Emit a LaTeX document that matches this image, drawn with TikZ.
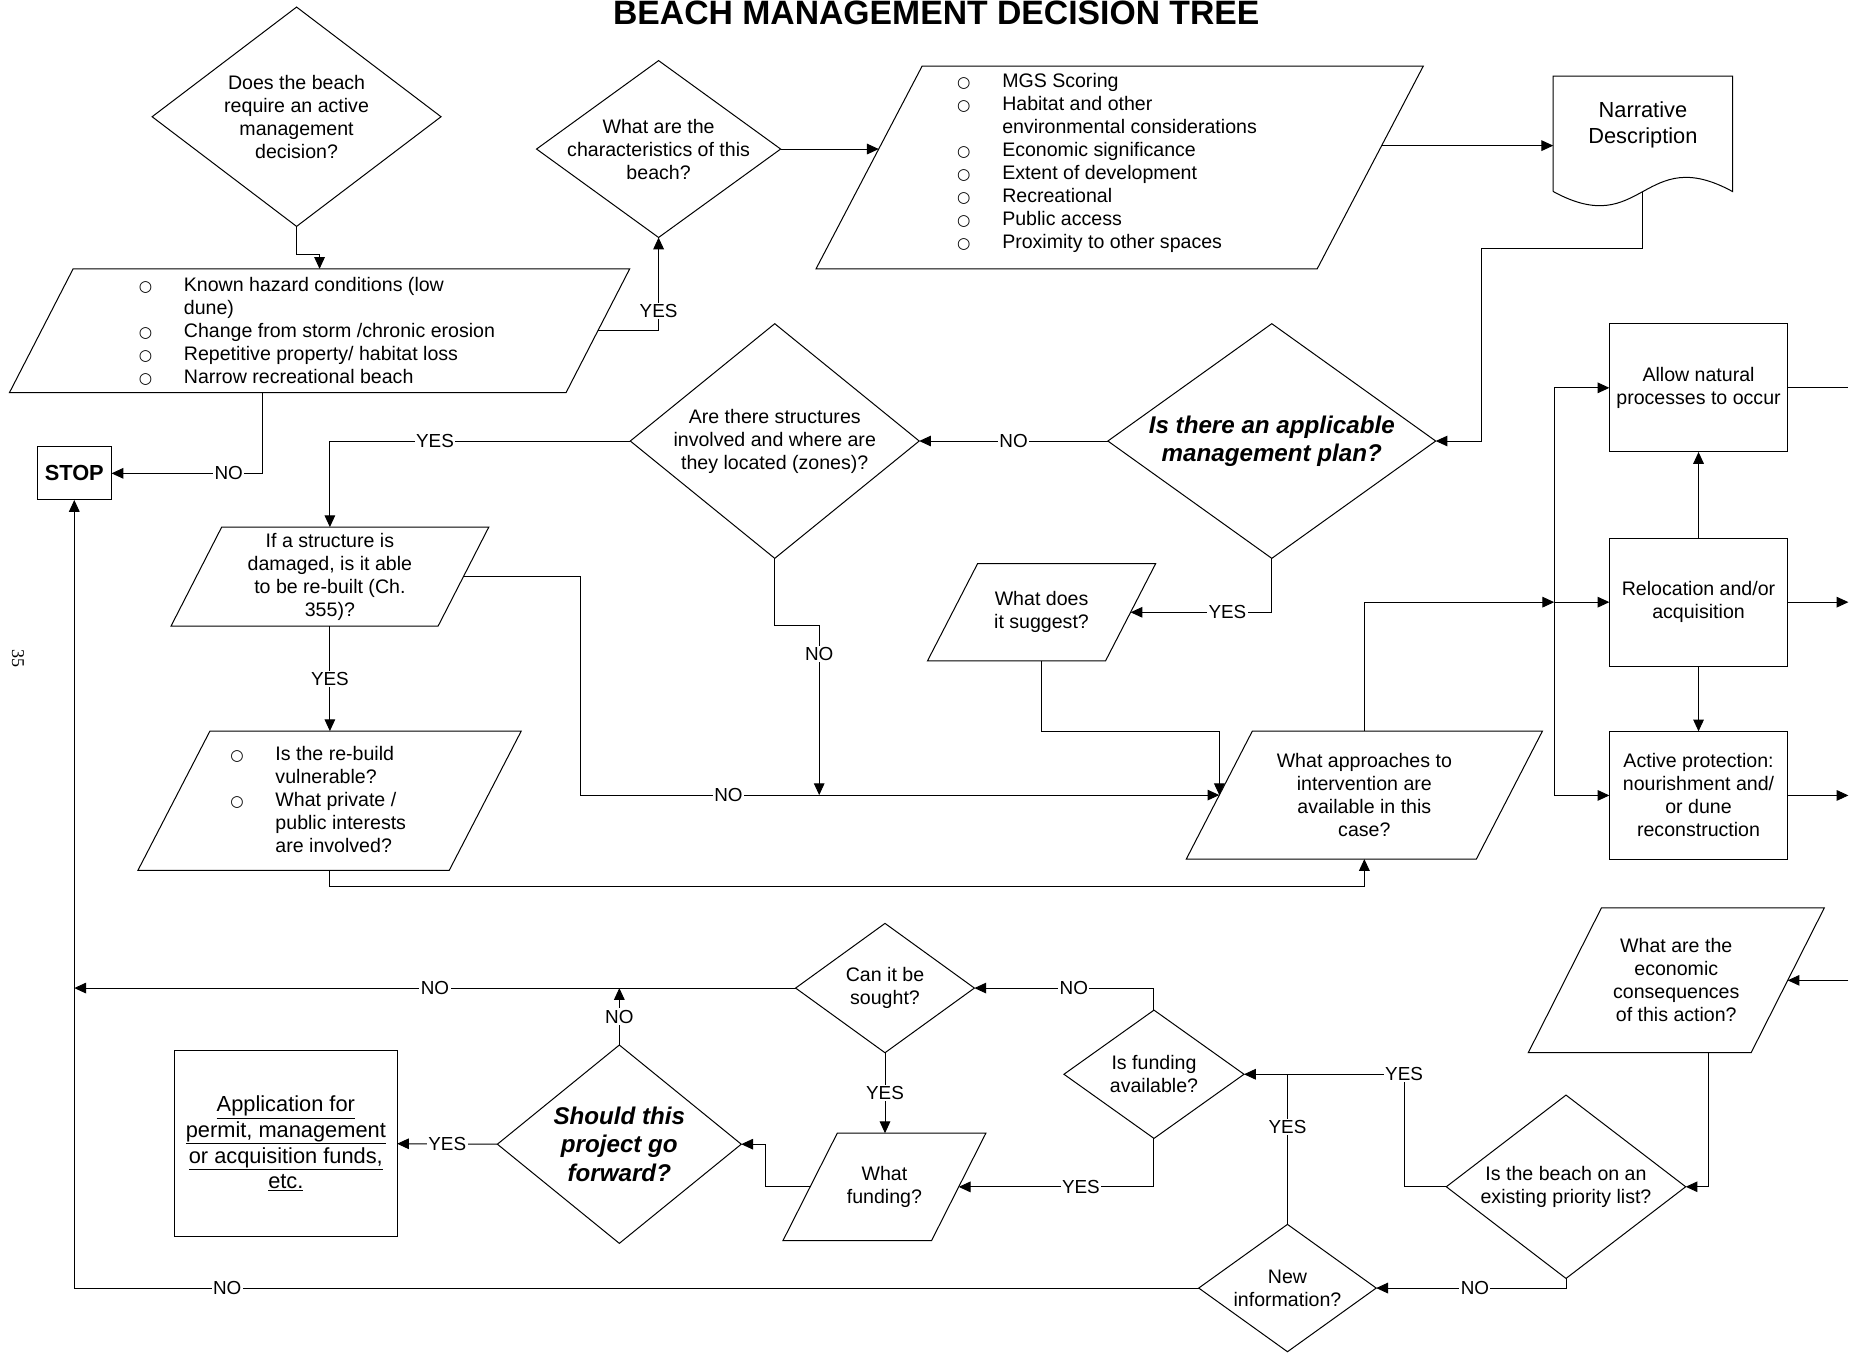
\documentclass[tikz,border=0pt]{standalone}
\usepackage{graphicx}
\usepackage{fontspec}
\setmainfont{Liberation Sans}
\newfontfamily\bulfont{DejaVu Sans}
\newfontfamily\serfont{Liberation Serif}
\usetikzlibrary{calc,arrows.meta,shapes.geometric}
\makeatletter
\newdimen\para@s \newdimen\para@xa \newdimen\para@ya \newdimen\para@xb \newdimen\para@yb
\pgfkeys{/pgf/para slant/.initial=0pt}
\pgfdeclareshape{para}{%
  \inheritsavedanchors[from=rectangle]%
  \inheritanchorborder[from=rectangle]%
  \inheritanchor[from=rectangle]{center}%
  \inheritanchor[from=rectangle]{north}%
  \inheritanchor[from=rectangle]{south}%
  \inheritanchor[from=rectangle]{east}%
  \inheritanchor[from=rectangle]{west}%
  \inheritanchor[from=rectangle]{north east}%
  \inheritanchor[from=rectangle]{north west}%
  \inheritanchor[from=rectangle]{south east}%
  \inheritanchor[from=rectangle]{south west}%
  \backgroundpath{%
    \pgfmathsetlength\para@s{\pgfkeysvalueof{/pgf/para slant}}%
    \southwest \para@xa=\pgf@x \para@ya=\pgf@y
    \northeast \para@xb=\pgf@x \para@yb=\pgf@y
    \advance\para@xa by \para@s
    \pgfpathmoveto{\pgfqpoint{\para@xa}{\para@yb}}%
    \pgfpathlineto{\pgfqpoint{\para@xb}{\para@yb}}%
    \advance\para@xb by -\para@s
    \advance\para@xa by -\para@s
    \pgfpathlineto{\pgfqpoint{\para@xb}{\para@ya}}%
    \pgfpathlineto{\pgfqpoint{\para@xa}{\para@ya}}%
    \pgfpathclose
  }%
}
\makeatother
\newcommand\fbase{\fontsize{16.6}{19.5}\selectfont}
\newcommand\flab{\fontsize{16}{18}\selectfont}
\newcommand\fnarr{\fontsize{18.5}{21.5}\selectfont}
\newcommand\fbi{\bfseries\itshape\fontsize{20.5}{23.3}\selectfont}
\newcommand\fbiw{\bfseries\itshape\fontsize{20.5}{24.3}\selectfont}
\newcommand\fapp{\fontsize{18.5}{21.7}\selectfont}
\newcommand\fstop{\bfseries\fontsize{18.5}{20}\selectfont}
\newcommand\bul{{\bulfont\fontsize{13}{13}\selectfont ○}}
\newcommand\bl{\makebox[65pt][c]{\bul}}
\newcommand\nb{\makebox[65pt]{}}
\tikzset{
  shp/.style={draw, inner sep=0pt, outer sep=0pt},
  dia/.style={shp, diamond},
  box/.style={shp, rectangle, align=center, font=\fbase},
  pgram/.style={shp, shape=para, para slant=#1pt, align=center, font=\fbase},
  txt/.style={inner sep=0pt, align=center, font=\fbase},
  lab/.style={fill=white, inner sep=1.2pt, font=\flab},
  arr/.style={-{Triangle[length=10pt,width=9pt]}},
}
\begin{document}
\begin{tikzpicture}[x=1pt,y=-1pt,line width=0.85pt]
\fill[white] (0,0) rectangle (1568,1147);
\useasboundingbox (0,0) rectangle (1568,1147);

% title and page number
\node[anchor=base, inner sep=0pt] (title) at (794,21) {\resizebox{548pt}{20pt}{\bfseries BEACH MANAGEMENT DECISION TREE}};
\node[rotate=-90, inner sep=0pt, font=\serfont\fontsize{15.3}{15.3}\selectfont] (pg) at (15.2,558.3) {35};

% diamonds
\node[dia, minimum width=245pt, minimum height=186pt] (d1) at (251.5,99) {};
\node[txt] (d1t) at (d1) {Does the beach\\require an active\\management\\decision?};
\node[dia, minimum width=207pt, minimum height=150pt] (d2) at (558.5,126.4) {};
\node[txt] (d2t) at (d2) {What are the\\characteristics of this\\beach?};
\node[dia, minimum width=278pt, minimum height=199pt] (d3) at (1078.5,374) {};
\node[txt, font=\fbi] (d3t) at (d3) {Is there an applicable\\management plan?};
\node[dia, minimum width=245pt, minimum height=199pt] (d4) at (657,374) {};
\node[txt] (d4t) at (d4) {Are there structures\\involved and where are\\they located (zones)?};
\node[dia, minimum width=203pt, minimum height=155.5pt] (d5) at (1328,1006.4) {};
\node[txt] (d5t) at (d5) {Is the beach on an\\existing priority list?};
\node[dia, minimum width=152.7pt, minimum height=108.8pt] (d6) at (978.6,911) {};
\node[txt] (d6t) at (d6) {Is funding\\available?};
\node[dia, minimum width=150.5pt, minimum height=108pt] (d7) at (1091.8,1092.3) {};
\node[txt] (d7t) at (d7) {New\\information?};
\node[dia, minimum width=151.6pt, minimum height=109.7pt] (d8) at (750.5,837.9) {};
\node[txt] (d8t) at (d8) {Can it be\\sought?};
\node[dia, minimum width=206.8pt, minimum height=168.2pt] (d9) at (525.2,970.3) {};
\node[txt, font=\fbiw] (d9t) at (d9) {Should this\\project go\\forward?};

% parallelograms
\node[pgram=54, minimum width=526pt, minimum height=105pt] (p1) at (271,280.5) {};
\node[txt, align=left, anchor=west] (p1t) at (90.5,281) {\bl Known hazard conditions (low\\\nb dune)\\\bl Change from storm /chronic erosion\\\bl Repetitive property/ habitat loss\\\bl Narrow recreational beach};
\node[pgram=90, minimum width=515pt, minimum height=172pt] (p2) at (949.5,142) {};
\node[txt, align=left, anchor=west] (p2t) at (784.5,137.9) {\bl MGS Scoring\\\bl Habitat and other\\\nb environmental considerations\\\bl Economic significance\\\bl Extent of development\\\bl Recreational\\\bl Public access\\\bl Proximity to other spaces};
\node[pgram=43, minimum width=269.5pt, minimum height=84pt] (p3) at (279.75,489) {If a structure is\\damaged, is it able\\to be re-built (Ch.\\355)?};
\node[pgram=61, minimum width=325pt, minimum height=118pt] (p4) at (279.5,679) {};
\node[txt, align=left, anchor=west] (p4t) at (168.2,677.7) {\bl Is the re-build\\\nb vulnerable?\\\bl What private /\\\nb public interests\\\nb are involved?};
\node[pgram=56, minimum width=302pt, minimum height=108.5pt] (p5) at (1157,674.25) {What approaches to\\intervention are\\available in this\\case?};
\node[pgram=42.5, minimum width=193.5pt, minimum height=82.5pt] (p6) at (883.25,519.25) {What does\\it suggest?};
\node[pgram=62, minimum width=251pt, minimum height=122.7pt] (p7) at (1421.5,831.35) {What are the\\economic\\consequences\\of this action?};
\node[pgram=46, minimum width=172pt, minimum height=91pt] (p8) at (750,1006.5) {What\\funding?};

% rectangles
\node[box, font=\fstop, minimum width=63.2pt, minimum height=45.2pt] (stop) at (63,401.4) {STOP};
\node[box, minimum width=151.2pt, minimum height=108.8pt] (b1) at (1440.4,328.9) {Allow natural\\processes to occur};
\node[box, minimum width=151.2pt, minimum height=108.7pt] (b2) at (1440.4,510.65) {Relocation and/or\\acquisition};
\node[box, minimum width=151.2pt, minimum height=108.7pt] (b3) at (1440.4,674.55) {Active protection:\\nourishment and/\\or dune\\reconstruction};
\node[box, font=\fapp, minimum width=188.7pt, minimum height=157.8pt] (app) at (242.4,969.9) {\underline{Application for}\\\underline{permit, management}\\\underline{or acquisition funds,}\\\underline{etc.}};

% document shape
\node[txt, font=\fnarr, minimum width=151.2pt, minimum height=82pt] (narr) at (1393.2,106) {Narrative\\Description};
\draw ($(narr.south west)+(0,15)$) -- (narr.north west) -- (narr.north east) -- ($(narr.south east)+(0,15)$)
  .. controls ($(narr.south)+(0,-26.6)$) and ($(narr.south)+(0,56.6)$) .. ($(narr.south west)+(0,15)$);

% attach points
\coordinate (p1r) at ($(p1.east)+(-27,0)$);
\coordinate (p2l) at (745.2,126.4);
\coordinate (p2r) at (1171.7,123.5);
\coordinate (p3r) at ($(p3.east)+(-21.5,0)$);
\coordinate (p5l) at ($(p5.west)+(28,0)$);
\coordinate (p6r) at ($(p6.east)+(-21.25,0)$);
\coordinate (p7r) at ($(p7.east)+(-31,0)$);
\coordinate (p7b) at ($(p7.south)+(27.7,0)$);
\coordinate (p8r) at ($(p8.east)+(-23,0)$);
\coordinate (p8l) at ($(p8.west)+(23,0)$);
\coordinate (narrb) at ($(narr.south)+(0,15)$);
\coordinate (edgeR) at (1567.5,0);
\coordinate (vj) at (1318,510.65);
\coordinate (j1) at (492,674.25);
\coordinate (j2) at (694.7,530.6);
\coordinate (jy) at (1190.7,911);
\coordinate (n1) at (1256,210.6);

% connectors
\draw[arr] (d1.south) -- ++(0,24) -| (p1.north);
\draw[arr] (p1r) -| node[lab,pos=0.604]{YES} (d2.south);
\draw[arr] (p1.south -| 223,0) |- node[lab,pos=0.613]{NO} (stop.east);
\draw[arr] (d2.east) -- (p2l);
\draw[arr] (p2r) -- (p2r -| narr.west);
\draw[arr] (narrb) |- (n1) |- (d3.east);
\draw[arr] (d3.west) -- node[lab]{NO} (d4.east);
\draw[arr] (d4.west) -| node[lab,pos=0.325]{YES} (p3.north);
\draw[arr] (d3.south) |- node[lab,pos=0.657]{YES} (p6r);
\draw[arr] (d4.south) |- (j2) -- node[lab,pos=0.165]{NO} (j2 |- p5l);
\draw[arr] (p3r) -| (j1) -- node[lab,pos=0.232]{NO} (p5l);
\draw[arr] (p6.south) |- (p5l |- p5.north) -- (p5l);
\draw[arr] (p3.south) -- node[lab]{YES} (p3.south |- p4.north);
\draw[arr] (p4.south) -- ++(0,14) -| (p5.south);
\draw[arr] (p5.north) |- (vj);
\draw[arr] (vj) -- (b2.west);
\draw[arr] (vj) |- (b1.west);
\draw[arr] (vj) |- (b3.west);
\draw[arr] (b2.north) -- (b1.south);
\draw[arr] (b2.south) -- (b3.north);
\draw (b1.east) -- (b1.east -| edgeR);
\draw[arr] (b2.east) -- (b2.east -| edgeR);
\draw[arr] (b3.east) -- (b3.east -| edgeR);
\draw[arr] (p7r -| edgeR) -- (p7r);
\draw[arr] (p7b) |- (d5.east);
\draw[arr] (d5.west) -| (jy) node[lab]{YES} -- (d6.east);
\draw (d7.north) -- node[lab,pos=0.65]{YES} (d7.north |- d6.east);
\draw[arr] (d5.south) |- node[lab,pos=0.74]{NO} (d7.east);
\draw[arr] (d7.west) -| node[lab,pos=0.432]{NO} (stop.south);
\draw[arr] (d6.north) |- node[lab,pos=0.723]{NO} (d8.east);
\draw[arr] (d6.south) |- node[lab,pos=0.687]{YES} (p8r);
\draw[arr] (d8.south) -- node[lab]{YES} (d8.south |- p8.north);
\draw[arr] (p8l) -| ($(d9.east)+(20.4,0)$) -- (d9.east);
\draw[arr] (d9.west) -- node[lab]{YES} (app.east);
\draw[arr] (d9.north) -- node[lab]{NO} (d9.north |- d8.west);
\draw[arr] (d8.west) -- node[lab]{NO} (d8.west -| stop.south);
\end{tikzpicture}
\end{document}
